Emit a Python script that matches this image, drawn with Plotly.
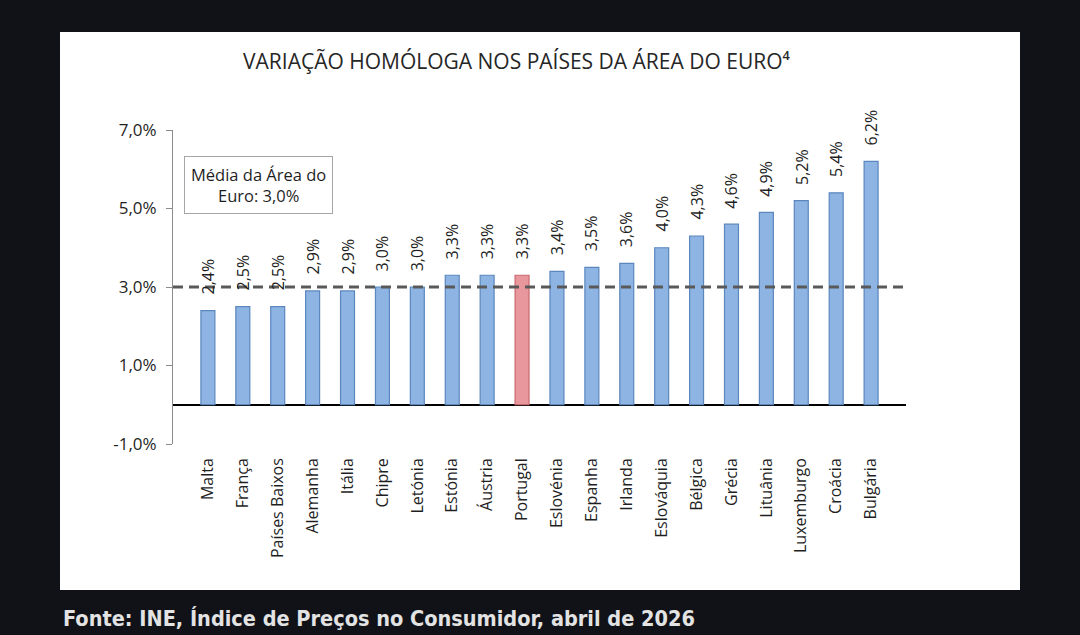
import plotly.graph_objects as go

countries = ["Malta", "França", "Países Baixos", "Alemanha", "Itália", "Chipre",
             "Letónia", "Estónia", "Áustria", "Portugal", "Eslovénia", "Espanha",
             "Irlanda", "Eslováquia", "Bélgica", "Grécia", "Lituânia", "Luxemburgo",
             "Croácia", "Bulgária"]
values = [2.4, 2.5, 2.5, 2.9, 2.9, 3.0, 3.0, 3.3, 3.3, 3.3, 3.4, 3.5, 3.6, 4.0,
          4.3, 4.6, 4.9, 5.2, 5.4, 6.2]
euro_avg = 3.0
highlight = "Portugal"
y_ticks = [-1, 1, 3, 5, 7]
y_tick_labels = ["-1,0%", "1,0%", "3,0%", "5,0%", "7,0%"]

title = "VARIAÇÃO HOMÓLOGA NOS PAÍSES DA ÁREA DO EURO⁴"
avg_label = "Média da Área do<br>Euro: 3,0%"
source = "Fonte: INE, Índice de Preços no Consumidor, abril de 2026"

FONT = "Open Sans"
TXT = "#1f1f1f"

fill = ["#E8979D" if c == highlight else "#8DB4E2" for c in countries]
edge = ["#C9686E" if c == highlight else "#5B87BE" for c in countries]

fig = go.Figure()
fig.add_trace(go.Bar(
    x=countries, y=values, width=0.40,
    marker=dict(color=fill, line=dict(color=edge, width=1.2)),
    hoverinfo="skip",
))

# geometry (px) of the plot area
W, H = 1080, 635
L, R, T, B = 173, 906, 130, 444
pw, ph = R - L, B - T
def px(x): return (x - L) / pw
def py(y): return (B - y) / ph

shapes = [
    dict(type="rect", xref="paper", yref="paper", x0=px(0), x1=px(1080),
         y0=py(635), y1=py(0), fillcolor="#101218", line=dict(width=0), layer="below"),
    dict(type="rect", xref="paper", yref="paper", x0=px(60), x1=px(1020),
         y0=py(590), y1=py(32), fillcolor="white", line=dict(width=0), layer="below"),
    dict(type="line", xref="paper", yref="y", x0=0, x1=1, y0=euro_avg, y1=euro_avg,
         line=dict(color="#595959", width=3.2, dash="10px,6px"), layer="above"),
]

annotations = [
    dict(text=title, xref="paper", yref="paper", x=px(516), y=py(61),
         xanchor="center", yanchor="middle",
         showarrow=False, font=dict(family=FONT, size=21, color="#262626")),
    dict(text=avg_label, xref="paper", yref="paper", x=px(258), y=py(185),
         xanchor="center", yanchor="middle",
         showarrow=False, font=dict(family=FONT, size=16.5, color=TXT),
         bordercolor="#A6A6A6", borderwidth=1, borderpad=6, bgcolor="white"),
    dict(text="<b>" + source + "</b>", xref="paper", yref="paper", x=px(61), y=py(633),
         xanchor="left", yanchor="bottom", showarrow=False,
         font=dict(family="DejaVu Sans Condensed, Liberation Sans Narrow, Liberation Sans",
                   size=21.5, color="#E3E3E3")),
]
for c, v in zip(countries, values):
    annotations.append(dict(
        text=f"{v:.1f}%".replace(".", ","), x=c, y=v, xref="x", yref="y",
        textangle=-90, yanchor="bottom", xanchor="center", yshift=14,
        showarrow=False, font=dict(family=FONT, size=16, color=TXT)))

fig.update_layout(
    width=W, height=H,
    margin=dict(l=L, r=W - R, t=T, b=H - B),
    paper_bgcolor="#161A22", plot_bgcolor="rgba(0,0,0,0)",
    separators=",.",
    showlegend=False,
    shapes=shapes, annotations=annotations,
    bargap=0.6,
)
fig.update_xaxes(
    range=[-1, len(countries)], showgrid=False, showline=False, ticks="",
    tickangle=-90, ticklabelstandoff=10,
    tickfont=dict(family=FONT, size=16, color=TXT), fixedrange=True,
)
fig.update_yaxes(
    range=[-1, 7], tickvals=y_ticks, ticktext=y_tick_labels,
    showgrid=False, showline=True, linecolor="#8C8C8C", linewidth=1,
    ticks="outside", ticklen=6, tickcolor="#8C8C8C", ticklabelstandoff=6,
    zeroline=True, zerolinecolor="black", zerolinewidth=2,
    tickfont=dict(family=FONT, size=17, color=TXT), fixedrange=True,
)

fig.write_html("out.html", config={"displayModeBar": False})
